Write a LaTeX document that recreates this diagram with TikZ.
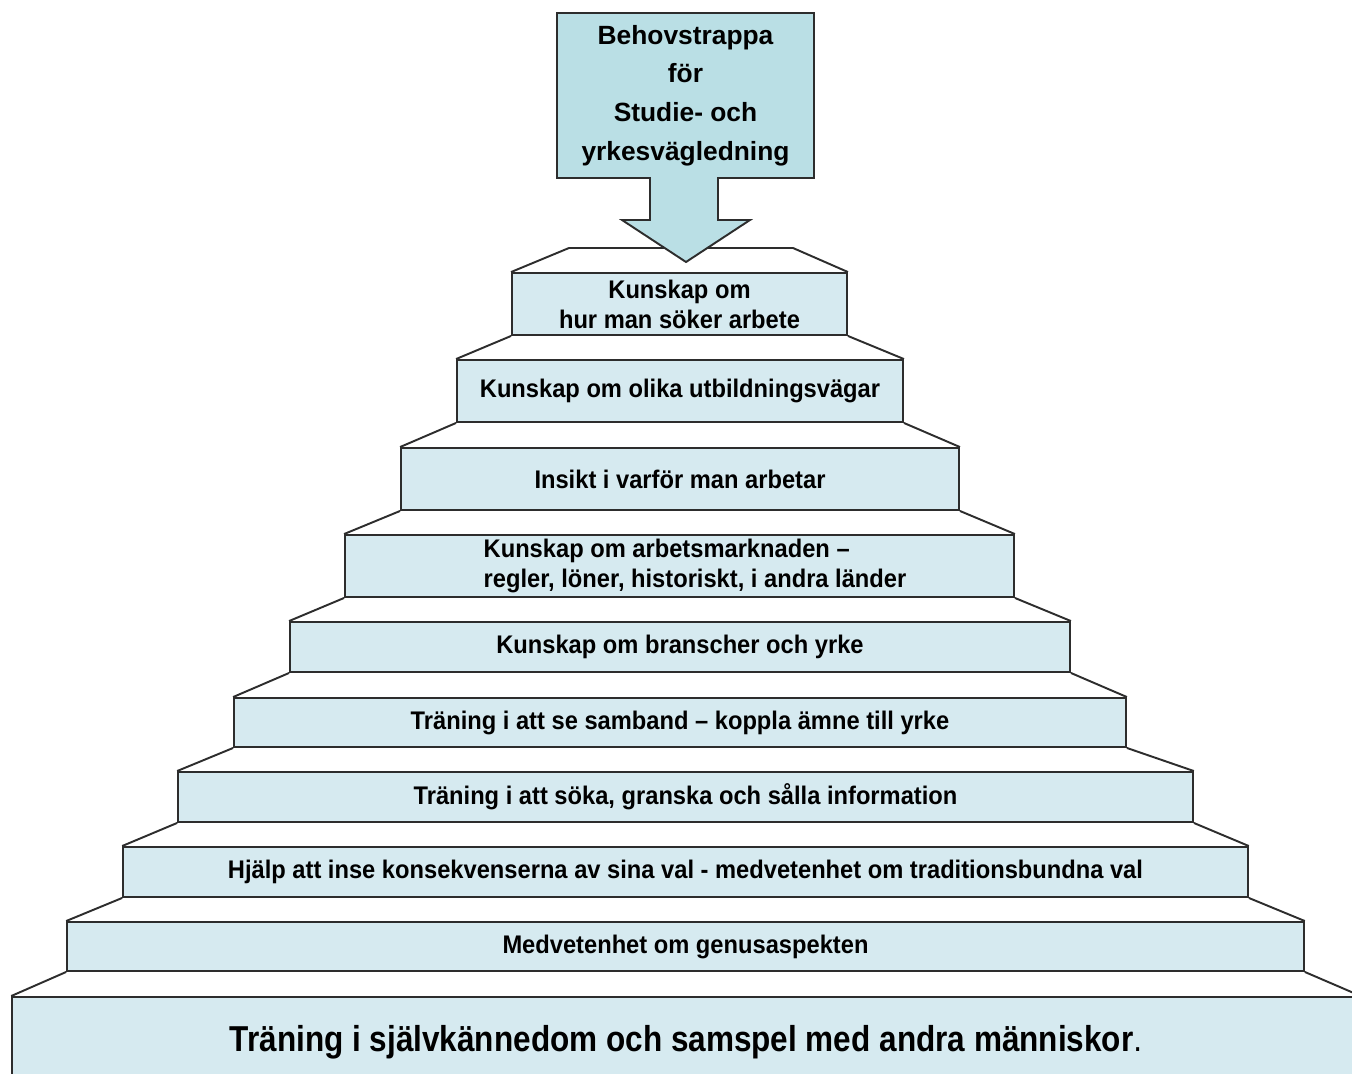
\documentclass[tikz,border=0pt]{standalone}
\usepackage{fontspec}
\setmainfont{Liberation Sans}
\newfontfamily\stepfont{Liberation Sans}[FakeStretch=0.93]
\newfontfamily\basefont{Liberation Sans}[FakeStretch=0.875]
\usepackage{xcolor}
\usepackage{tikz}
\definecolor{stepblue}{RGB}{214,234,240}
\definecolor{titleblue}{RGB}{186,223,229}
\definecolor{edgegray}{RGB}{45,45,45}

\begin{document}
\begin{tikzpicture}[
        x=0.02cm, y=-0.02cm,
        stepbox/.style={draw=edgegray, line width=1.1pt, fill=stepblue, inner sep=0pt,
            font=\stepfont\bfseries\fontsize{14.5}{17}\selectfont, align=center},
        tread/.style={draw=edgegray, line width=1.1pt},
        titlebox/.style={font=\bfseries\fontsize{15}{22}\selectfont, align=center, inner sep=0pt,
            minimum width=5.14cm, minimum height=3.3cm}
    ]
    \useasboundingbox (0,0) rectangle (1352,1074);

    % Trappsteg
    \node[stepbox, minimum width=6.70cm, minimum height=1.24cm] (s1) at (679.5,304) {Kunskap om\\hur man söker arbete};
    \node[stepbox, minimum width=8.92cm, minimum height=1.24cm] (s2) at (680,391) {Kunskap om olika utbildningsvägar};
    \node[stepbox, minimum width=11.16cm, minimum height=1.24cm] (s3) at (680,479) {Insikt i varför man arbetar};
    \node[stepbox, minimum width=13.38cm, minimum height=1.24cm] (s4) at (679.5,566) {};
    \node[stepbox, draw=none, fill=none, align=left] (s4text) at (695,566) {Kunskap om arbetsmarknaden –\\regler, löner, historiskt, i andra länder};
    \node[stepbox, minimum width=15.60cm, minimum height=1.00cm] (s5) at (680,647) {Kunskap om branscher och yrke};
    \node[stepbox, minimum width=17.84cm, minimum height=0.98cm] (s6) at (680,722.5) {Träning i att se samband – koppla ämne till yrke};
    \node[stepbox, minimum width=20.30cm, minimum height=1.00cm] (s7) at (685.5,797) {Träning i att söka, granska och sålla information};
    \node[stepbox, minimum width=22.50cm, minimum height=1.00cm] (s8) at (685.5,872) {Hjälp att inse konsekvenserna av sina val - medvetenhet om traditionsbundna val};
    \node[stepbox, minimum width=24.74cm, minimum height=0.98cm] (s9) at (685.5,946.5) {Medvetenhet om genusaspekten};
    \node[stepbox, minimum width=26.96cm, minimum height=1.86cm] (s10) at (686,1043.5) {};
    \node[font=\basefont\bfseries\fontsize{20.5}{26}\selectfont, anchor=base, inner sep=0pt] (bottomtext) at (686,1051) {Träning i självkännedom och samspel med andra människor{\mdseries .}};

    % Stegens ovansidor
    \draw[tread] (s1.north west) -- (569,248) -- (793,248) -- (s1.north east);
    \draw[tread] (s1.south west) -- (s2.north west) (s1.south east) -- (s2.north east);
    \draw[tread] (s2.south west) -- (s3.north west) (s2.south east) -- (s3.north east);
    \draw[tread] (s3.south west) -- (s4.north west) (s3.south east) -- (s4.north east);
    \draw[tread] (s4.south west) -- (s5.north west) (s4.south east) -- (s5.north east);
    \draw[tread] (s5.south west) -- (s6.north west) (s5.south east) -- (s6.north east);
    \draw[tread] (s6.south west) -- (s7.north west) (s6.south east) -- (s7.north east);
    \draw[tread] (s7.south west) -- (s8.north west) (s7.south east) -- (s8.north east);
    \draw[tread] (s8.south west) -- (s9.north west) (s8.south east) -- (s9.north east);
    \draw[tread] (s9.south west) -- (s10.north west) (s9.south east) -- (s10.north east);

    % Rubrik med pil
    \coordinate (titlecorner) at (557,13);
    \coordinate (tip) at (686,262);
    \draw[tread, fill=titleblue] (titlecorner) -- (814,13) -- (814,178)
        -- (718,178) -- (718,220) -- (750,220) -- (tip) -- (622,220) -- (650,220) -- (650,178)
        -- (557,178) -- cycle;
    \node[titlebox] (title) at (685.5,95.5) {Behovstrappa\\för\\Studie- och\\yrkesvägledning};
\end{tikzpicture}
\end{document}
